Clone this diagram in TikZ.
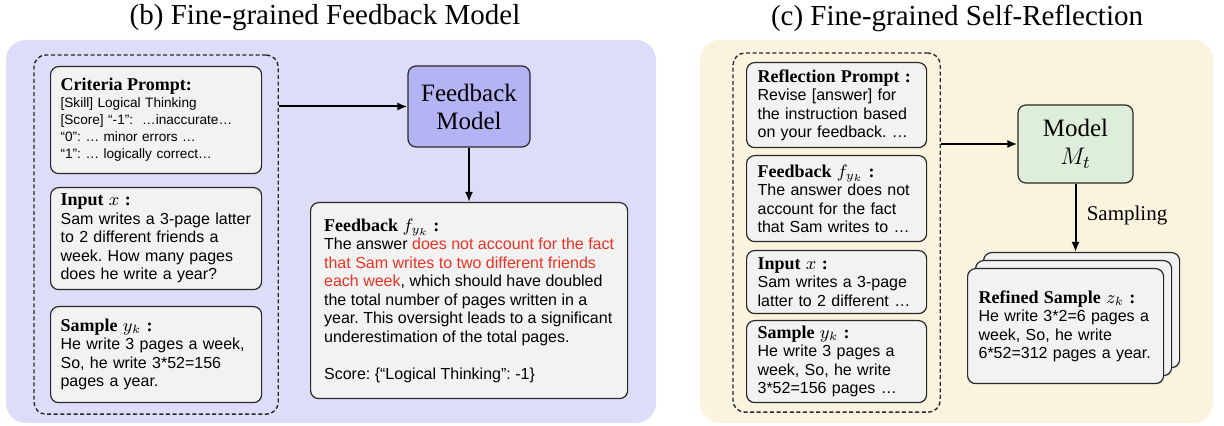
\documentclass[tikz,border=0pt]{standalone}
\usepackage{fontspec}
\setmainfont{Liberation Serif}
\setsansfont{Liberation Sans}
\usetikzlibrary{arrows.meta,fit,positioning}

\definecolor{panelb}{RGB}{221,221,250}
\definecolor{panelc}{RGB}{250,243,222}
\definecolor{cardgray}{RGB}{242,242,242}
\definecolor{fbmfill}{RGB}{180,180,245}
\definecolor{modelfill}{RGB}{222,238,218}
\definecolor{errred}{RGB}{235,51,36}
\definecolor{edge}{RGB}{40,40,40}

\newcommand{\boxhead}[1]{{\rmfamily\bfseries\fontsize{9}{10}\selectfont #1}}
\newcommand{\bodyfont}{\sffamily\fontsize{8}{9.25}\selectfont}
\frenchspacing

\begin{document}
\begin{tikzpicture}[x=0.5pt, y=-0.5pt,
    card/.style={draw=edge, line width=0.6pt, fill=cardgray, rounded corners=4pt,
      align=left, anchor=north west, inner ysep=2pt, font=\bodyfont},
    ctxbox/.style={draw=edge, line width=0.7pt, dash pattern=on 2pt off 1.3pt, rounded corners=6pt},
    modelbox/.style={draw=edge, line width=0.6pt, rounded corners=4pt, align=center,
      font=\rmfamily\fontsize{12.5}{14}\selectfont},
    arr/.style={-{Latex[length=5pt,width=4pt]}, line width=1pt},
    ttl/.style={font=\rmfamily\fontsize{14.5}{16}\selectfont}]
  \useasboundingbox (0,0) rectangle (1224,426);

  % panels
  \fill[panelb, rounded corners=10pt] (6,40) rectangle (656,423);
  \fill[panelc, rounded corners=10pt] (700,40) rectangle (1213,423);
  \node[ttl] (tb) at (325,18) {(b) Fine-grained Feedback Model};
  \node[ttl] (tc) at (957,18) {(c) Fine-grained Self-Reflection};

  % (b) feedback model
  \node[card, inner xsep=5pt, text width=95.5pt, minimum height=53.5pt,
    font=\sffamily\fontsize{6.8}{8.5}\selectfont] (crit) at (50,66)
    {\boxhead{Criteria Prompt:}\\{}[Skill] Logical Thinking\\{}[Score] “-1”:\ \ …inaccurate…\\
     “0”: … minor errors …\\“1”: … logically correct…};
  \node[card, inner xsep=5pt, text width=95.5pt, minimum height=51pt] (inp) at (50,187)
    {\boxhead{Input $x$ :}\\Sam writes a 3-page latter\\to 2 different friends a\\
     week. How many pages\\does he write a year?};
  \node[card, inner xsep=5pt, text width=95.5pt, minimum height=48pt] (smp) at (50,306)
    {\boxhead{Sample $y_k$ :}\\He write 3 pages a week,\\So, he write 3*52=156\\pages a year.};
  \node[ctxbox, fit=(crit)(smp), inner xsep=8pt, inner ysep=5.5pt] (ctxb) {};

  \node[modelbox, fill=fbmfill, minimum width=61pt, minimum height=40.5pt] (fbm) at (469,106.5)
    {Feedback\\Model};
  \node[card, minimum width=158.5pt, minimum height=98pt] (fb) at (310,202)
    {\boxhead{Feedback $f_{y_k}$ :}\\The answer \textcolor{errred}{does not account for the fact}\\
     \textcolor{errred}{that Sam writes to two different friends}\\
     \textcolor{errred}{each week}, which should have doubled\\
     the total number of pages written in a\\year. This oversight leads to a significant\\
     underestimation of the total pages.\\[9.25pt]Score: \{“Logical Thinking”: -1\}};

  \draw[arr] (ctxb.east |- fbm) -- (fbm);
  \draw[arr] (fbm) -- (fb.north -| fbm);

  % (c) self-reflection
  \node[card, inner xsep=5.5pt, text width=79pt, minimum height=42.5pt] (refl) at (746,62)
    {\boxhead{Reflection Prompt :}\\Revise [answer] for\\the instruction based\\on your feedback. …};
  \node[card, inner xsep=5.5pt, text width=79pt, minimum height=43pt] (fbr) at (746,155)
    {\boxhead{Feedback $f_{y_k}$ :}\\The answer does not\\account for the fact\\that Sam writes to …};
  \node[card, inner xsep=5.5pt, text width=79pt, minimum height=31.5pt] (inr) at (746,250)
    {\boxhead{Input $x$ :}\\Sam writes a 3-page\\latter to 2 different …};
  \node[card, inner xsep=5.5pt, text width=79pt, minimum height=41pt] (smr) at (746,320)
    {\boxhead{Sample $y_k$ :}\\He write 3 pages a\\week, So, he write\\3*52=156 pages …};
  \node[ctxbox, fit=(refl)(smr), inner xsep=6.5pt, inner ysep=4.5pt] (ctxc) {};

  \node[modelbox, fill=modelfill, minimum width=57.5pt, minimum height=39pt] (mdl) at (1075.5,144)
    {Model\\$M_t$};

  \node[card, inner xsep=5.5pt, text width=87pt, minimum height=57.5pt] (refb) at (983,252) {};
  \node[card, inner xsep=5.5pt, text width=87pt, minimum height=57.5pt] (refm) at (975,260) {};
  \node[card, inner xsep=5.5pt, text width=87pt, minimum height=57.5pt] (ref) at (967,268)
    {\boxhead{Refined Sample $z_k$ :}\\He write 3*2=6 pages a\\week, So, he write\\6*52=312 pages a year.};

  \draw[arr] (ctxc.east |- mdl) -- (mdl);
  \draw[arr] (mdl) -- (refb.north -| mdl);
  \node[font=\rmfamily\fontsize{10.5}{12}\selectfont] (smpl) at (1127,215) {Sampling};
\end{tikzpicture}
\end{document}
